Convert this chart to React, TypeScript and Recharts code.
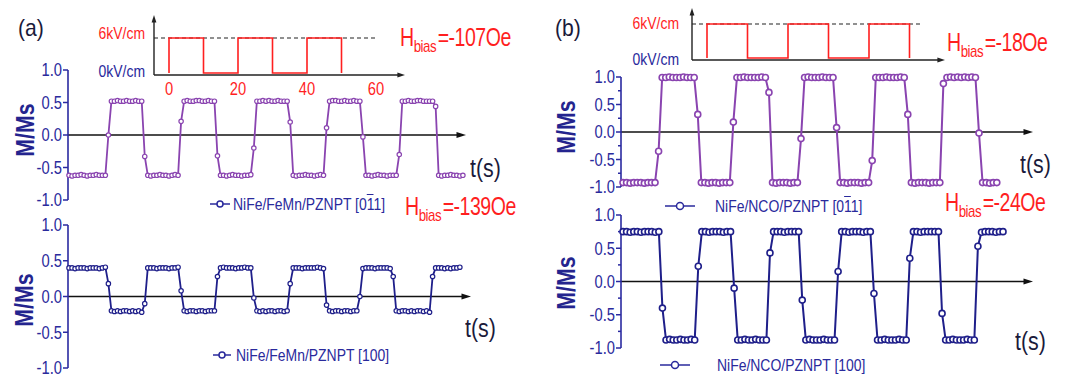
import React from 'react';
import { LineChart, Line, XAxis, YAxis, ReferenceLine } from 'recharts';

const FONT = "'Liberation Sans', Arial, sans-serif";
const NARROW = 0.82;
const PURPLE = '#8a44b0';
const NAVY = '#1f1f8a';
const AXIS_BLUE = '#2a2aa0';
const LABEL_BLUE = '#2a2a9c';
const RED = '#ff1f1f';

// ---------- data ----------
const yTicksA = [-1, -0.5, 0, 0.5, 1];
const yTicksB = [-1, -0.75, -0.5, -0.25, 0, 0.25, 0.5, 0.75, 1];
const fieldTimes = [0, 0, 10, 10, 20, 20, 30, 30, 40, 40, 50, 50];
const fieldValues = [0, 6, 6, 0, 0, 6, 6, 0, 0, 6, 6, 0];
const fieldTicks = [0, 20, 40, 60];

// NiFe/FeMn/PZNPT [0-11], M/Ms per sample
const seriesA011 = [
  -0.62, -0.63, -0.62, -0.62, -0.61, -0.62, -0.63, -0.62, -0.62, -0.61, -0.62, -0.62, -0.62,
  0.0,
  0.52, 0.52, 0.53, 0.52, 0.52, 0.53, 0.52, 0.52, 0.53, 0.52, 0.52,
  -0.33,
  -0.62, -0.63, -0.62, -0.62, -0.61, -0.62, -0.62, -0.63, -0.62, -0.61, -0.62,
  0.21,
  0.52, 0.53, 0.52, 0.52, 0.53, 0.53, 0.52, 0.52, 0.53, 0.52, 0.52,
  -0.32,
  -0.62, -0.62, -0.63, -0.62, -0.61, -0.62, -0.62, -0.63, -0.62, -0.62, -0.61,
  -0.2,
  0.52, 0.52, 0.53, 0.52, 0.53, 0.52, 0.52, 0.53, 0.52, 0.52, 0.52,
  0.2,
  -0.62, -0.63, -0.62, -0.62, -0.61, -0.62, -0.62, -0.63, -0.62, -0.61, -0.62,
  0.11,
  0.52, 0.53, 0.53, 0.52, 0.52, 0.53, 0.52, 0.52, 0.53, 0.52, 0.52,
  -0.03,
  -0.62, -0.62, -0.63, -0.62, -0.61, -0.62, -0.62, -0.63, -0.62, -0.62, -0.62,
  -0.3,
  0.52, 0.52, 0.53, 0.52, 0.52, 0.53, 0.53, 0.52, 0.52, 0.52, 0.52,
  0.44,
  -0.62, -0.63, -0.62, -0.62, -0.61, -0.62, -0.62, -0.63, -0.62,
];

// NiFe/FeMn/PZNPT [100]
const seriesA100 = [
  0.4, 0.4, 0.39, 0.4, 0.4, 0.4, 0.39, 0.4, 0.4, 0.4, 0.39, 0.4, 0.41,
  0.18,
  -0.2, -0.21, -0.2, -0.21, -0.2, -0.2, -0.21, -0.2, -0.21, -0.2, -0.22,
  -0.1,
  0.4, 0.4, 0.4, 0.39, 0.4, 0.4, 0.4, 0.39, 0.4, 0.4, 0.41,
  0.08,
  -0.2, -0.21, -0.2, -0.2, -0.21, -0.2, -0.2, -0.21, -0.2, -0.2, -0.2,
  0.28,
  0.4, 0.41, 0.4, 0.4, 0.4, 0.39, 0.4, 0.4, 0.41, 0.4, 0.4,
  -0.02,
  -0.2, -0.21, -0.2, -0.21, -0.2, -0.2, -0.21, -0.2, -0.2, -0.21, -0.2,
  0.18,
  0.4, 0.4, 0.4, 0.39, 0.4, 0.4, 0.4, 0.4, 0.41, 0.4, 0.39,
  -0.12,
  -0.2, -0.21, -0.2, -0.2, -0.21, -0.2, -0.2, -0.21, -0.2, -0.2,
  0.0,
  0.39, 0.4, 0.4, 0.4, 0.39, 0.4, 0.4, 0.4, 0.4, 0.39,
  0.28,
  -0.2, -0.21, -0.2, -0.2, -0.21, -0.2, -0.21, -0.2, -0.2, -0.21, -0.2, -0.22,
  0.28,
  0.4, 0.4, 0.4, 0.39, 0.4, 0.39, 0.4, 0.4, 0.41,
];

// NiFe/NCO/PZNPT [0-11]
const seriesB011 = [
  -0.92, -0.92, -0.93, -0.92, -0.92, -0.92, -0.93, -0.92, -0.92, -0.92,
  -0.35,
  0.99, 0.99, 1.0, 0.99, 0.99, 0.99, 1.0, 0.99, 0.99, 0.99,
  0.32,
  -0.92, -0.92, -0.93, -0.92, -0.92, -0.93, -0.92, -0.92, -0.92,
  0.18,
  0.99, 0.99, 1.0, 0.99, 0.99, 0.99, 0.99, 1.0, 0.99,
  0.72,
  -0.92, -0.93, -0.92, -0.92, -0.92, -0.93, -0.92, -0.92,
  -0.12,
  0.99, 1.0, 0.99, 0.99, 0.99, 1.0, 0.99, 0.99, 0.99,
  0.08,
  -0.92, -0.92, -0.93, -0.92, -0.92, -0.92, -0.93, -0.92, -0.92,
  -0.52,
  0.99, 0.99, 0.99, 1.0, 0.99, 0.99, 0.99, 1.0, 0.99,
  0.32,
  -0.92, -0.93, -0.92, -0.92, -0.92, -0.93, -0.92, -0.92, -0.92,
  0.88,
  0.99, 1.0, 0.99, 1.0, 0.99, 1.0, 0.99, 1.0, 0.99,
  -0.02,
  -0.92, -0.92, -0.93, -0.92, -0.92,
];

// NiFe/NCO/PZNPT [100]
const seriesB100 = [
  0.75, 0.75, 0.74, 0.75, 0.75, 0.74, 0.75, 0.75, 0.75, 0.74, 0.75,
  -0.4,
  -0.88, -0.87, -0.88, -0.88, -0.87, -0.88, -0.88, -0.87, -0.88,
  0.23,
  0.75, 0.75, 0.74, 0.75, 0.75, 0.75, 0.74, 0.75, 0.75,
  -0.1,
  -0.88, -0.88, -0.87, -0.88, -0.88, -0.87, -0.88, -0.88, -0.88,
  0.43,
  0.75, 0.75, 0.75, 0.74, 0.75, 0.75, 0.75, 0.75,
  -0.28,
  -0.88, -0.87, -0.88, -0.88, -0.88, -0.87, -0.88, -0.88, -0.88,
  0.15,
  0.75, 0.75, 0.74, 0.75, 0.75, 0.75, 0.74, 0.75, 0.75,
  -0.18,
  -0.88, -0.88, -0.87, -0.88, -0.88, -0.88, -0.87, -0.88, -0.88,
  0.35,
  0.75, 0.75, 0.74, 0.75, 0.75, 0.75, 0.75, 0.75,
  -0.48,
  -0.88, -0.88, -0.87, -0.88, -0.88, -0.88, -0.87, -0.88, -0.88,
  0.53,
  0.74, 0.75, 0.75, 0.75, 0.74, 0.75, 0.75,
];

// ---------- helpers ----------
const arrowShape = (color: string, width: number, head: number) => (p: any) => {
  const { x1, y1, x2, y2 } = p;
  const dx = x2 - x1;
  const dy = y2 - y1;
  const len = Math.hypot(dx, dy) || 1;
  const ux = dx / len;
  const uy = dy / len;
  const bx = x2 - ux * head * 1.9;
  const by = y2 - uy * head * 1.9;
  const px = -uy * head * 0.6;
  const py = ux * head * 0.6;
  return (
    <g>
      <line x1={x1} y1={y1} x2={bx + ux} y2={by + uy} stroke={color} strokeWidth={width} />
      <polygon points={`${x2},${y2} ${bx + px},${by + py} ${bx - px},${by - py}`} fill={color} />
    </g>
  );
};

const makeTick = (axisX: number, color: string) => (p: any) => {
  const v = p.payload.value as number;
  const major = Math.abs(v * 2 - Math.round(v * 2)) < 1e-6;
  return (
    <g>
      <line x1={axisX - (major ? 5 : 3)} x2={axisX} y1={p.y} y2={p.y} stroke={color} strokeWidth={1.5} />
      {major && (
        <text
          x={0}
          y={0}
          transform={`translate(${axisX - 6},${p.y}) scale(${NARROW},1)`}
          dy="0.36em"
          textAnchor="end"
          fill={LABEL_BLUE}
          fontSize={18}
          fontFamily={FONT}
        >
          {v.toFixed(1)}
        </text>
      )}
    </g>
  );
};

const fieldTick = (p: any) => (
  <text
    x={0}
    y={0}
    transform={`translate(${p.x},${p.y}) scale(${NARROW},1)`}
    dy="0.71em"
    textAnchor="middle"
    fill={RED}
    fontSize={18}
    fontFamily={FONT}
  >
    {p.payload.value}
  </text>
);

type MainCfg = {
  bx: number; by: number; w: number; h: number;
  axisX: number; x0: number; k: number; arrowEnd: number;
  yTop: number; yBottom: number;
};

function MainPanel(props: {
  cfg: MainCfg; values: number[]; color: string; r: number; dotW: number; lineW: number; ticks: number[];
}) {
  const { cfg, values, color, r, dotW, lineW, ticks } = props;
  const d0 = -(cfg.x0 - cfg.axisX) / cfg.k;
  const d1 = d0 + (cfg.arrowEnd - cfg.axisX) / cfg.k;
  const data = values.map((m, i) => ({ t: i, m }));
  return (
    <div style={{ position: 'absolute', left: cfg.bx, top: cfg.by }}>
      <LineChart
        width={cfg.w}
        height={cfg.h}
        data={data}
        margin={{ top: cfg.yTop - cfg.by, bottom: cfg.by + cfg.h - cfg.yBottom, left: 0, right: cfg.bx + cfg.w - cfg.arrowEnd }}
      >
        <XAxis dataKey="t" type="number" domain={[d0, d1]} hide />
        <YAxis
          type="number"
          domain={[-1, 1]}
          ticks={ticks}
          interval={0}
          width={cfg.axisX - cfg.bx}
          axisLine={{ stroke: AXIS_BLUE, strokeWidth: 1.6 }}
          tickLine={false}
          tick={makeTick(cfg.axisX - cfg.bx, AXIS_BLUE)}
        />
        <ReferenceLine
          segment={[{ x: d0, y: 0 }, { x: d1, y: 0 }]}
          ifOverflow="visible"
          shape={arrowShape('#111', 1.6, 5)}
        />
        <Line
          type="linear"
          dataKey="m"
          stroke={color}
          strokeWidth={lineW}
          dot={{ r, fill: '#fff', stroke: color, strokeWidth: dotW }}
          isAnimationActive={false}
        />
      </LineChart>
    </div>
  );
}

type InsetCfg = {
  bx: number; by: number; w: number; h: number;
  axisX: number; x0: number; k: number; arrowEnd: number;
  yArrowTop: number; yAxisLine: number; yZero: number; ySix: number;
  dashEnd: number; showTicks: boolean;
};

function FieldInset({ cfg }: { cfg: InsetCfg }) {
  const kE = (cfg.yZero - cfg.ySix) / 6;
  const eTop = (cfg.yZero - cfg.yArrowTop) / kE;
  const eBot = -(cfg.yAxisLine - cfg.yZero) / kE;
  const d0 = -(cfg.x0 - cfg.axisX) / cfg.k;
  const d1 = d0 + (cfg.arrowEnd - cfg.axisX) / cfg.k;
  const data = fieldTimes.map((t, i) => ({ t, e: fieldValues[i] }));
  const xAxisH = 30;
  return (
    <div style={{ position: 'absolute', left: cfg.bx, top: cfg.by }}>
      <LineChart
        width={cfg.w}
        height={cfg.h}
        data={data}
        margin={{
          top: cfg.yArrowTop - cfg.by,
          left: cfg.axisX - cfg.bx,
          right: cfg.bx + cfg.w - cfg.arrowEnd,
          bottom: cfg.by + cfg.h - cfg.yAxisLine - (cfg.showTicks ? xAxisH : 0),
        }}
      >
        <XAxis
          dataKey="t"
          type="number"
          domain={[d0, d1]}
          hide={!cfg.showTicks}
          height={xAxisH}
          ticks={fieldTicks}
          interval={0}
          axisLine={false}
          tickLine={false}
          tickSize={4}
          tickMargin={3}
          tick={fieldTick}
        />
        <YAxis type="number" domain={[eBot, eTop]} hide />
        <ReferenceLine
          segment={[{ x: d0, y: 6 }, { x: cfg.dashEnd, y: 6 }]}
          ifOverflow="visible"
          stroke="#222"
          strokeWidth={1.2}
          strokeDasharray="4 3"
        />
        <ReferenceLine
          segment={[{ x: d0, y: eBot }, { x: d1, y: eBot }]}
          ifOverflow="visible"
          shape={arrowShape('#222', 1.4, 4)}
        />
        <ReferenceLine
          segment={[{ x: d0, y: eBot }, { x: d0, y: eTop }]}
          ifOverflow="visible"
          shape={arrowShape('#222', 1.4, 4)}
        />
        <Line type="linear" dataKey="e" stroke={RED} strokeWidth={1.6} dot={false} isAnimationActive={false} />
      </LineChart>
    </div>
  );
}

// narrow text: Helvetica-Narrow-like look by horizontal scaling
const T = (p: {
  x: number; y: number; size: number; color: string; children: React.ReactNode;
  right?: boolean; scale?: number; style?: React.CSSProperties;
}) => (
  <div
    style={{
      position: 'absolute',
      left: p.x,
      top: p.y,
      fontSize: p.size,
      color: p.color,
      lineHeight: 1,
      whiteSpace: 'nowrap',
      fontFamily: FONT,
      transform: p.right ? 'translateX(-100%)' : undefined,
      ...p.style,
    }}
  >
    <span
      style={{
        display: 'inline-block',
        transform: `scaleX(${p.scale ?? NARROW})`,
        transformOrigin: p.right ? 'right center' : 'left center',
      }}
    >
      {p.children}
    </span>
  </div>
);

const Hbias = ({ x, y, value }: { x: number; y: number; value: string }) => (
  <T x={x} y={y} size={25} color={RED} scale={0.78} style={{ letterSpacing: -0.6 }}>
    H<sub style={{ fontSize: 17, verticalAlign: -6, lineHeight: 0 }}>bias</sub>
    <span style={{ marginLeft: 2 }}>=-{value}</span>
  </T>
);

const MLabel = ({ cx, cy }: { cx: number; cy: number }) => (
  <div
    style={{
      position: 'absolute',
      left: cx,
      top: cy,
      transform: `translate(-50%,-50%) rotate(-90deg) scaleX(${NARROW})`,
      fontSize: 26,
      fontWeight: 'bold',
      color: '#24248e',
      fontFamily: FONT,
      lineHeight: 1,
      whiteSpace: 'nowrap',
    }}
  >
    M/Ms
  </div>
);

const LegendItem = (p: { x: number; cy: number; iconW: number; textX: number; r: number; text: React.ReactNode }) => (
  <div style={{ position: 'absolute', left: p.x, top: p.cy - 10, height: 20, display: 'flex', alignItems: 'center', whiteSpace: 'nowrap' }}>
    <svg width={p.iconW} height={12}>
      <line x1={0} y1={6} x2={p.iconW} y2={6} stroke={LABEL_BLUE} strokeWidth={1.5} />
      <circle cx={p.iconW / 2} cy={6} r={p.r} fill="#fff" stroke={LABEL_BLUE} strokeWidth={1.5} />
    </svg>
    <span
      style={{
        marginLeft: p.textX - p.x - p.iconW,
        fontSize: 17,
        color: LABEL_BLUE,
        fontFamily: FONT,
        lineHeight: 1,
        display: 'inline-block',
        transform: `scaleX(${NARROW})`,
        transformOrigin: 'left center',
      }}
    >
      {p.text}
    </span>
  </div>
);

const bar1 = <span style={{ textDecoration: 'overline' }}>1</span>;

const cfgA1: MainCfg = { bx: 0, by: 55, w: 480, h: 155, axisX: 68, x0: 69, k: 3.03, arrowEnd: 466, yTop: 70, yBottom: 200 };
const cfgA2: MainCfg = { bx: 0, by: 212, w: 480, h: 167, axisX: 68, x0: 69, k: 3.03, arrowEnd: 471, yTop: 225, yBottom: 368 };
const cfgB1: MainCfg = { bx: 540, by: 60, w: 510, h: 140, axisX: 621, x0: 623, k: 3.56, arrowEnd: 1033, yTop: 77, yBottom: 187 };
const cfgB2: MainCfg = { bx: 540, by: 200, w: 510, h: 160, axisX: 621, x0: 623, k: 3.585, arrowEnd: 1033, yTop: 215, yBottom: 348 };

const insetA: InsetCfg = {
  bx: 100, by: 5, w: 320, h: 100, axisX: 154, x0: 169, k: 3.45, arrowEnd: 405,
  yArrowTop: 15, yAxisLine: 75, yZero: 73, ySix: 38, dashEnd: 60, showTicks: true,
};
const insetB: InsetCfg = {
  bx: 640, by: 0, w: 320, h: 70, axisX: 692, x0: 707, k: 4.05, arrowEnd: 945,
  yArrowTop: 8, yAxisLine: 60, yZero: 58, ySix: 24, dashEnd: 52.6, showTicks: false,
};

export default function App() {
  return (
    <div style={{ position: 'absolute', left: 0, top: 0, width: 1077, height: 379, background: '#fff', overflow: 'hidden', fontFamily: FONT }}>
      <FieldInset cfg={insetA} />
      <FieldInset cfg={insetB} />
      <MainPanel cfg={cfgA1} values={seriesA011} color={PURPLE} r={2.2} dotW={1.2} lineW={1.8} ticks={yTicksA} />
      <MainPanel cfg={cfgA2} values={seriesA100} color={NAVY} r={2.2} dotW={1.2} lineW={1.8} ticks={yTicksA} />
      <MainPanel cfg={cfgB1} values={seriesB011} color={PURPLE} r={3} dotW={1.6} lineW={2} ticks={yTicksB} />
      <MainPanel cfg={cfgB2} values={seriesB100} color={NAVY} r={3} dotW={1.6} lineW={2} ticks={yTicksB} />

      <T x={18} y={16} size={24} color="#1a1a3a" scale={0.88}>(a)</T>
      <T x={555} y={16} size={24} color="#1a1a3a" scale={0.88}>(b)</T>

      <T x={145} y={25} size={17} color={RED} right>6kV/cm</T>
      <T x={145} y={63} size={17} color={LABEL_BLUE} right>0kV/cm</T>
      <T x={679} y={15} size={17} color={RED} right>6kV/cm</T>
      <T x={679} y={51} size={17} color={LABEL_BLUE} right>0kV/cm</T>

      <Hbias x={400} y={25} value="107Oe" />
      <Hbias x={405} y={194} value="139Oe" />
      <Hbias x={947} y={30} value="18Oe" />
      <Hbias x={945} y={190} value="24Oe" />

      <T x={470} y={155} size={26} color="#1a1a3a">t(s)</T>
      <T x={465} y={315} size={26} color="#1a1a3a">t(s)</T>
      <T x={1020} y={151} size={26} color="#1a1a3a">t(s)</T>
      <T x={1015} y={328} size={26} color="#1a1a3a">t(s)</T>

      <MLabel cx={25} cy={130} />
      <MLabel cx={24} cy={300} />
      <MLabel cx={566} cy={127} />
      <MLabel cx={566} cy={283} />

      <LegendItem x={210} cy={204} iconW={20} textX={233} r={3} text={<>NiFe/FeMn/PZNPT [0{bar1}1]</>} />
      <LegendItem x={213} cy={355} iconW={18} textX={236} r={3} text={<>NiFe/FeMn/PZNPT [100]</>} />
      <LegendItem x={665} cy={206} iconW={30} textX={715} r={3.5} text={<>NiFe/NCO/PZNPT [0{bar1}1]</>} />
      <LegendItem x={660} cy={365} iconW={30} textX={717} r={3.5} text={<>NiFe/NCO/PZNPT [100]</>} />
    </div>
  );
}
